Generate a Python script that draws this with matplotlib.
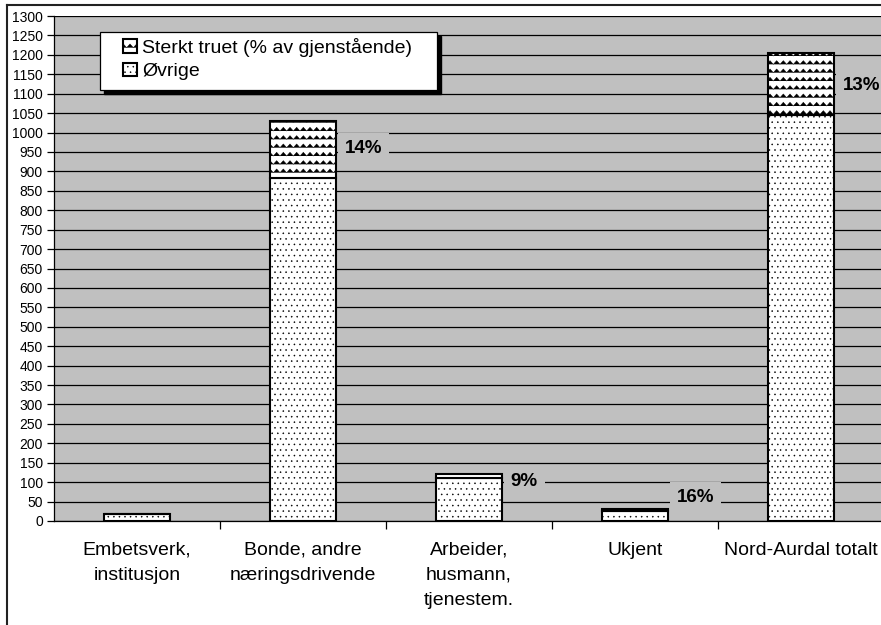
"""Stablet søylediagram: sterkt truet vs. øvrige, per eiergruppe (Nord-Aurdal)."""
import matplotlib

matplotlib.use("Agg")
import matplotlib.hatch as mhatch
import matplotlib.pyplot as plt
import numpy as np
from matplotlib.lines import Line2D
from matplotlib.patches import Rectangle
from matplotlib.path import Path

categories = [
    "Embetsverk,\ninstitusjon",
    "Bonde, andre\nnæringsdrivende",
    "Arbeider,\nhusmann,\ntjenestem.",
    "Ukjent",
    "Nord-Aurdal totalt",
]
ovrige = [17, 883, 110, 27, 1045]
sterkt_truet = [0, 147, 11, 5, 160]
pct_labels = [None, "14%", "9%", "16%", "13%"]

# Plassering av prosentetikettene (y i dataenheter), som i originalen.
_LABEL_Y = [None, 960, 101, 60, 1122]

_BG = "#c0c0c0"
_W, _H = 881, 625


class _ZigZag(mhatch.HatchPatternBase):
    """Bølgemønster (sikksakk) som erstatter '*' i hatch-tabellen."""

    def __init__(self, hatch, density):
        self.num_rows = hatch.count("*") * density
        self.teeth = int(self.num_rows * 1.25)
        self.num_vertices = self.num_rows * (2 * self.teeth + 1)

    def set_vertices_and_codes(self, vertices, codes):
        n = 2 * self.teeth + 1
        step = 1.0 / self.num_rows if self.num_rows else 1.0
        xs = np.linspace(0.0, 1.0, n)
        amp = np.where(np.arange(n) % 2 == 0, -0.22, 0.22) * step
        for r in range(self.num_rows):
            sl = slice(r * n, (r + 1) * n)
            vertices[sl, 0] = xs
            vertices[sl, 1] = (r + 0.5) * step + amp
            codes[sl] = Path.LINETO
            codes[r * n] = Path.MOVETO


mhatch._hatch_types[mhatch._hatch_types.index(mhatch.Stars)] = _ZigZag

plt.rcParams["font.family"] = ["Liberation Sans", "DejaVu Sans"]
plt.rcParams["hatch.linewidth"] = 0.35


def _fig_box(x0, y0, x1, y1):
    """Piksler (fra øvre venstre hjørne) -> figurkoordinater for Rectangle."""
    return (x0 / _W, 1 - y1 / _H), (x1 - x0) / _W, (y1 - y0) / _H


fig = plt.figure(figsize=(_W / 100, _H / 100), dpi=100)
ax = fig.add_axes([54 / _W, 1 - 521 / _H, 830 / _W, 505 / _H])
ax.set_facecolor(_BG)

x = np.arange(len(categories))
ax.bar(x, ovrige, width=0.4, color="white", edgecolor="black",
       linewidth=1.5, hatch="...", label="Øvrige", zorder=3)
ax.bar(x, sterkt_truet, width=0.4, bottom=ovrige, color="white",
       edgecolor="black", linewidth=1.5, hatch="**",
       label="Sterkt truet (% av gjenstående)", zorder=3)

for i, txt in enumerate(pct_labels):
    if txt is None:
        continue
    ax.text(i + 0.25, _LABEL_Y[i], txt, ha="left", va="center",
            fontsize=13.5, fontweight="bold", zorder=4,
            bbox=dict(facecolor=_BG, edgecolor="none", pad=5))

ax.set_xlim(-0.5, len(categories) - 0.5)
ax.set_ylim(0, 1300)
ax.set_yticks(np.arange(0, 1301, 50))
ax.yaxis.grid(True, color="black", linewidth=0.9)
ax.set_axisbelow(True)
ax.tick_params(axis="y", labelsize=10, length=5, width=0.9, pad=3)

ax.set_xticks(x)
ax.set_xticklabels(categories, fontsize=14, linespacing=1.62)
ax.set_xticks(np.arange(0.5, len(categories) - 0.5, 1), minor=True)
ax.tick_params(axis="x", which="major", length=0, pad=15)
ax.tick_params(axis="x", which="minor", length=6, width=0.9)

for side in ("top", "right"):
    ax.spines[side].set_visible(False)
for side in ("left", "bottom"):
    ax.spines[side].set_linewidth(0.9)

# Legendeboks med skygge tegnes for seg, legenden selv uten ramme
xy, w, h = _fig_box(104, 36, 441, 94)
fig.add_artist(Rectangle(xy, w, h, transform=fig.transFigure,
                         facecolor="black", edgecolor="black", zorder=5))
xy, w, h = _fig_box(100, 32, 437, 90)
fig.add_artist(Rectangle(xy, w, h, transform=fig.transFigure,
                         facecolor="white", edgecolor="black",
                         linewidth=0.9, zorder=5))

handles, labels = ax.get_legend_handles_labels()
leg = ax.legend(handles[::-1], labels[::-1], loc="upper left",
                bbox_to_anchor=(123 / _W, 1 - 38 / _H),
                bbox_transform=fig.transFigure, fontsize=14,
                frameon=False, handlelength=0.7, handleheight=0.7,
                handletextpad=0.3, borderpad=0, labelspacing=0.3,
                borderaxespad=0)
leg.set_zorder(6)
fig.add_artist(leg)

# Ytre ramme (venstre og topp er synlige i utsnittet)
fig.add_artist(Line2D([7 / _W, 7 / _W], [0, 1 - 5 / _H], color="#222222", linewidth=1.5))
fig.add_artist(Line2D([7 / _W, 1], [1 - 5 / _H, 1 - 5 / _H], color="#222222", linewidth=1.5))

fig.savefig("out.png", dpi=100)
